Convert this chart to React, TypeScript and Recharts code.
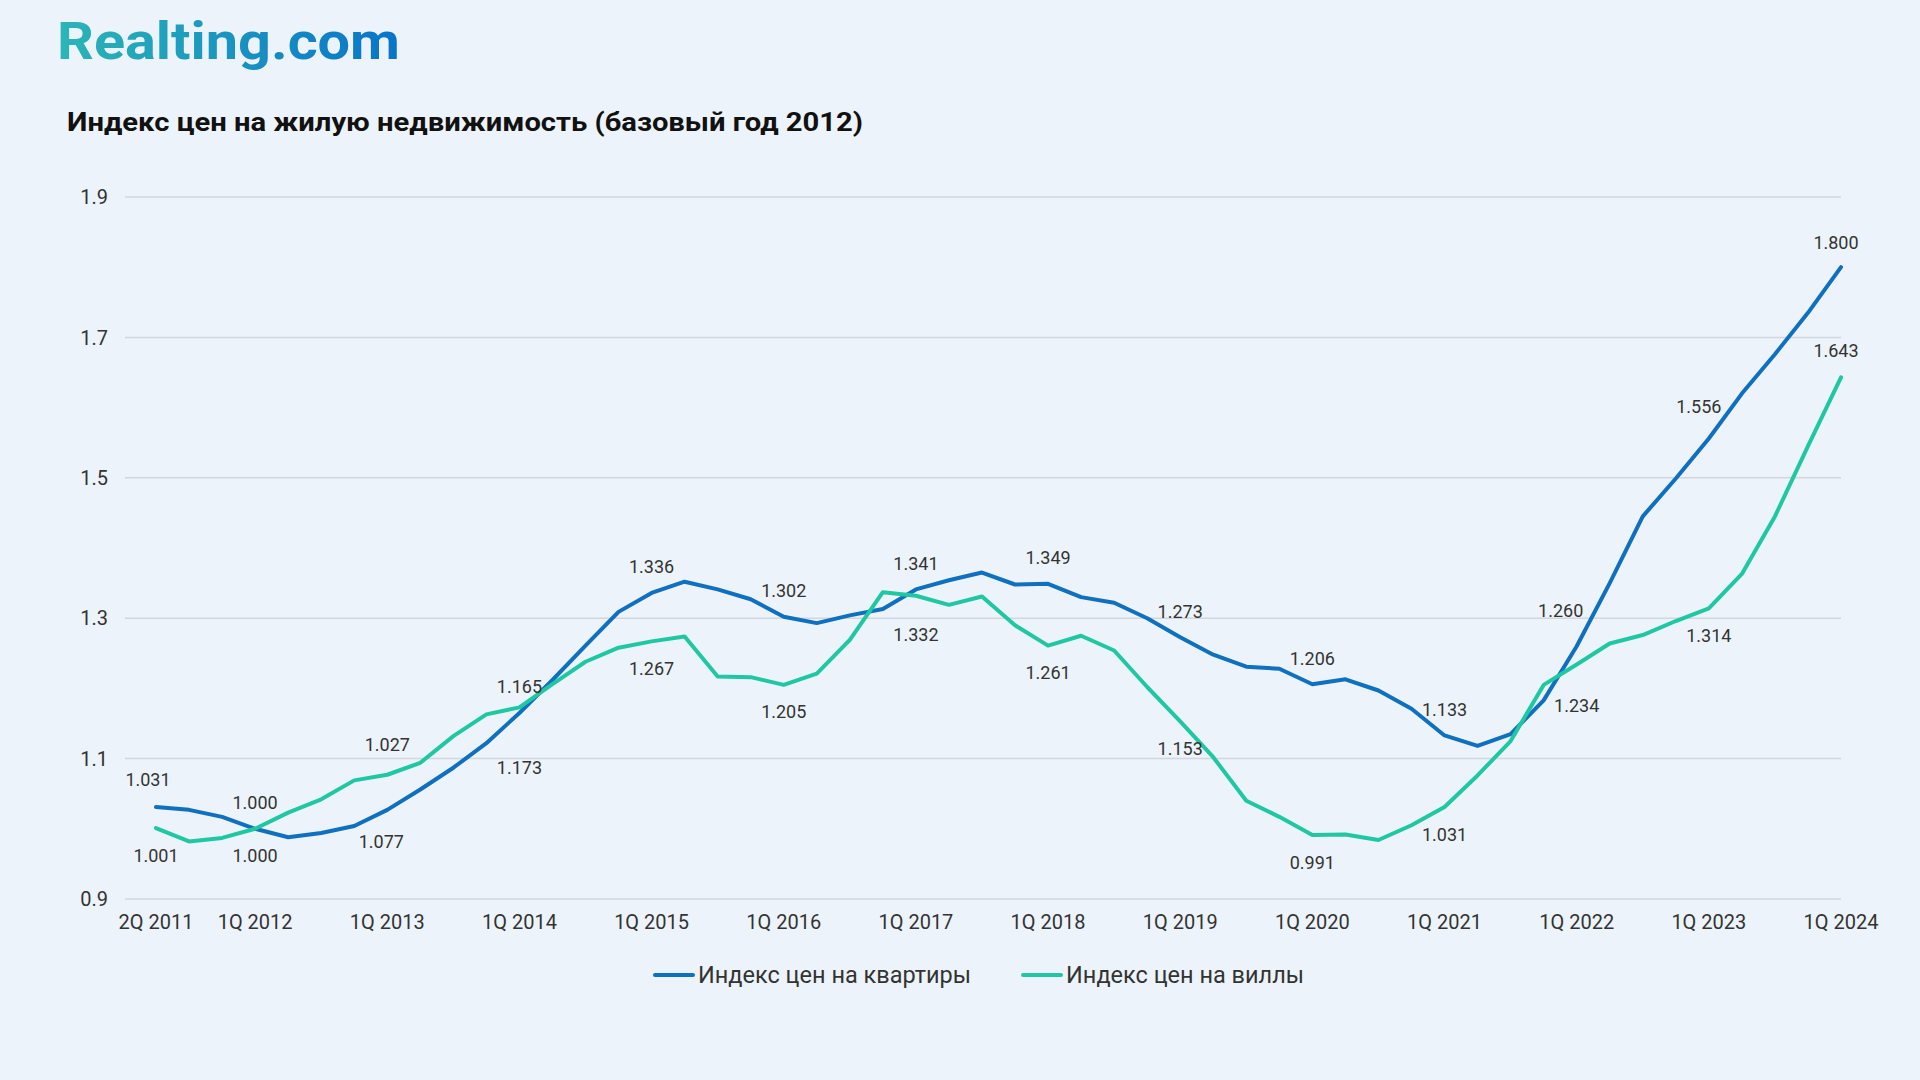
import { LineChart, Line, XAxis, YAxis, CartesianGrid, Legend } from 'recharts';

// quarters, 2Q 2011 .. 1Q 2024
const quarters = [
  '2Q 2011', '3Q 2011', '4Q 2011',
  '1Q 2012', '2Q 2012', '3Q 2012', '4Q 2012',
  '1Q 2013', '2Q 2013', '3Q 2013', '4Q 2013',
  '1Q 2014', '2Q 2014', '3Q 2014', '4Q 2014',
  '1Q 2015', '2Q 2015', '3Q 2015', '4Q 2015',
  '1Q 2016', '2Q 2016', '3Q 2016', '4Q 2016',
  '1Q 2017', '2Q 2017', '3Q 2017', '4Q 2017',
  '1Q 2018', '2Q 2018', '3Q 2018', '4Q 2018',
  '1Q 2019', '2Q 2019', '3Q 2019', '4Q 2019',
  '1Q 2020', '2Q 2020', '3Q 2020', '4Q 2020',
  '1Q 2021', '2Q 2021', '3Q 2021', '4Q 2021',
  '1Q 2022', '2Q 2022', '3Q 2022', '4Q 2022',
  '1Q 2023', '2Q 2023', '3Q 2023', '4Q 2023',
  '1Q 2024',
];

// Индекс цен на квартиры
const flats = [
  1.031, 1.027, 1.017,
  1.000, 0.988, 0.994, 1.004,
  1.027, 1.056, 1.087, 1.122,
  1.165, 1.212, 1.261, 1.309,
  1.336, 1.352, 1.341, 1.327,
  1.302, 1.293, 1.304, 1.313,
  1.341, 1.354, 1.365, 1.348,
  1.349, 1.330, 1.322, 1.300,
  1.273, 1.248, 1.231, 1.228,
  1.206, 1.213, 1.197, 1.171,
  1.133, 1.118, 1.135, 1.183,
  1.260, 1.350, 1.445, 1.499,
  1.556, 1.620, 1.676, 1.735,
  1.800,
];

// Индекс цен на виллы
const villas = [
  1.001, 0.982, 0.987,
  1.000, 1.023, 1.042, 1.069,
  1.077, 1.094, 1.132, 1.163,
  1.173, 1.206, 1.238, 1.258,
  1.267, 1.274, 1.217, 1.216,
  1.205, 1.221, 1.269, 1.337,
  1.332, 1.319, 1.331, 1.290,
  1.261, 1.275, 1.254, 1.202,
  1.153, 1.102, 1.040, 1.017,
  0.991, 0.992, 0.984, 1.005,
  1.031, 1.076, 1.125, 1.205,
  1.234, 1.264, 1.276, 1.296,
  1.314, 1.363, 1.445, 1.545,
  1.643,
];

const xTicks = ['2Q 2011', '1Q 2012', '1Q 2013', '1Q 2014', '1Q 2015', '1Q 2016', '1Q 2017',
  '1Q 2018', '1Q 2019', '1Q 2020', '1Q 2021', '1Q 2022', '1Q 2023', '1Q 2024'];
const yTicks = [0.9, 1.1, 1.3, 1.5, 1.7, 1.9];

const seriesNames = ['Индекс цен на квартиры', 'Индекс цен на виллы'];

// quarters that carry a value label
const labeled = xTicks.map(t => quarters.indexOf(t));

const BLUE = '#0f70c0';
const TEAL = '#1fc8a2';
const TEXT = '#333';
const FONT = 'Roboto, Arial, sans-serif';

// manual nudges of some labels, like the original
const nudge: Record<number, { hi?: { dx?: number; dy?: number }; lo?: { dx?: number; dy?: number } }> = {
  0: { hi: { dx: -8, dy: -28 } },
  7: { hi: { dy: -30 }, lo: { dx: -6, dy: 32 } },
  11: { hi: { dy: -21 }, lo: { dy: 55 } },
  23: { lo: { dy: 39 } },
  43: { hi: { dx: -16, dy: -36 }, lo: { dy: 41 } },
  47: { hi: { dx: -10, dy: -32 } },
  51: { hi: { dx: -5, dy: -25 }, lo: { dx: -5, dy: -27 } },
};

const rows = quarters.map((q, i) => ({
  q,
  flats: flats[i],
  villas: villas[i],
  hi: Math.max(flats[i], villas[i]),
  lo: Math.min(flats[i], villas[i]),
}));

// flats label goes above both lines, villas label below both
const labelDot = (kind: 'hi' | 'lo') => (props: any) => {
  const { cx, cy, index } = props;
  if (!labeled.includes(index)) return <g key={`${kind}-${index}`} />;
  const n = nudge[index]?.[kind] ?? {};
  const dy = n.dy ?? (kind === 'hi' ? -26 : 27);
  const dx = n.dx ?? 0;
  const v = kind === 'hi' ? flats[index] : villas[index];
  return (
    <text key={`${kind}-${index}`} x={cx + dx} y={cy + dy} textAnchor="middle" dominantBaseline="central"
      fontSize={18} fontFamily={FONT} fill={TEXT}>
      {v.toFixed(3)}
    </text>
  );
};

const LegendContent = ({ payload }: any) => {
  const items = (payload || [])
    .filter((p: any) => p.type !== 'none' && seriesNames.includes(p.value))
    .sort((a: any, b: any) => seriesNames.indexOf(a.value) - seriesNames.indexOf(b.value));
  return (
    <div style={{ height: 40, display: 'flex', alignItems: 'center', paddingLeft: 653, fontFamily: FONT }}>
      {items.map((p: any, i: number) => (
        <div key={p.value} style={{ display: 'flex', alignItems: 'center', marginLeft: i ? 50 : 0 }}>
          <span style={{ width: 42, height: 4, borderRadius: 2, background: p.color, display: 'inline-block' }} />
          <span style={{ marginLeft: 3, fontSize: 23.5, color: TEXT }}>{p.value}</span>
        </div>
      ))}
    </div>
  );
};

export default function App() {
  return (
    <div style={{ position: 'fixed', left: 0, top: 0, width: 1920, height: 1080, background: '#edf3fa', overflow: 'hidden' }}>
      <svg width={1000} height={160} style={{ position: 'absolute', left: 0, top: 0 }}>
        <defs>
          <linearGradient id="logoGrad" x1="0" x2="1" y1="0" y2="0">
            <stop offset="0%" stopColor="#2bb6b6" />
            <stop offset="100%" stopColor="#0873cb" />
          </linearGradient>
        </defs>
        <text x={57} y={59} fontSize={52} fontWeight={700} fontFamily={FONT} fill="url(#logoGrad)"
          textLength={343} lengthAdjust="spacingAndGlyphs">Realting.com</text>
        <text x={67} y={131} fontSize={26} fontWeight={700} fontFamily={FONT} fill="#111"
          textLength={796} lengthAdjust="spacingAndGlyphs">Индекс цен на жилую недвижимость (базовый год 2012)</text>
      </svg>
      <div style={{ position: 'absolute', left: 0, top: 0 }}>
        <LineChart width={1920} height={1080} data={rows} margin={{ top: 197, right: 79, bottom: 85, left: 65 }}>
          <CartesianGrid vertical={false} stroke="#d3d7dd" strokeWidth={1.5} />
          <XAxis dataKey="q" ticks={xTicks} interval={0} padding={{ left: 31, right: 0 }} axisLine={false} tickLine={false}
            tickSize={0} tickMargin={16} height={56} tick={{ fill: TEXT, fontSize: 20, fontFamily: FONT }} />
          <YAxis domain={[0.9, 1.9]} ticks={yTicks} width={60} axisLine={false} tickLine={false} tickSize={0} tickMargin={17}
            tick={{ fill: TEXT, fontSize: 20, fontFamily: FONT }} tickFormatter={(v: number) => v.toFixed(1)} />
          <Legend verticalAlign="bottom" height={40} wrapperStyle={{ left: 0, width: 1920 }} content={<LegendContent />} />
          <Line dataKey="flats" name={seriesNames[0]} stroke={BLUE} strokeWidth={4} dot={false} activeDot={false}
            strokeLinecap="round" strokeLinejoin="round" isAnimationActive={false} />
          <Line dataKey="villas" name={seriesNames[1]} stroke={TEAL} strokeWidth={4} dot={false} activeDot={false}
            strokeLinecap="round" strokeLinejoin="round" isAnimationActive={false} />
          <Line dataKey="hi" stroke="none" legendType="none" dot={labelDot('hi')} activeDot={false} isAnimationActive={false} />
          <Line dataKey="lo" stroke="none" legendType="none" dot={labelDot('lo')} activeDot={false} isAnimationActive={false} />
        </LineChart>
      </div>
    </div>
  );
}
